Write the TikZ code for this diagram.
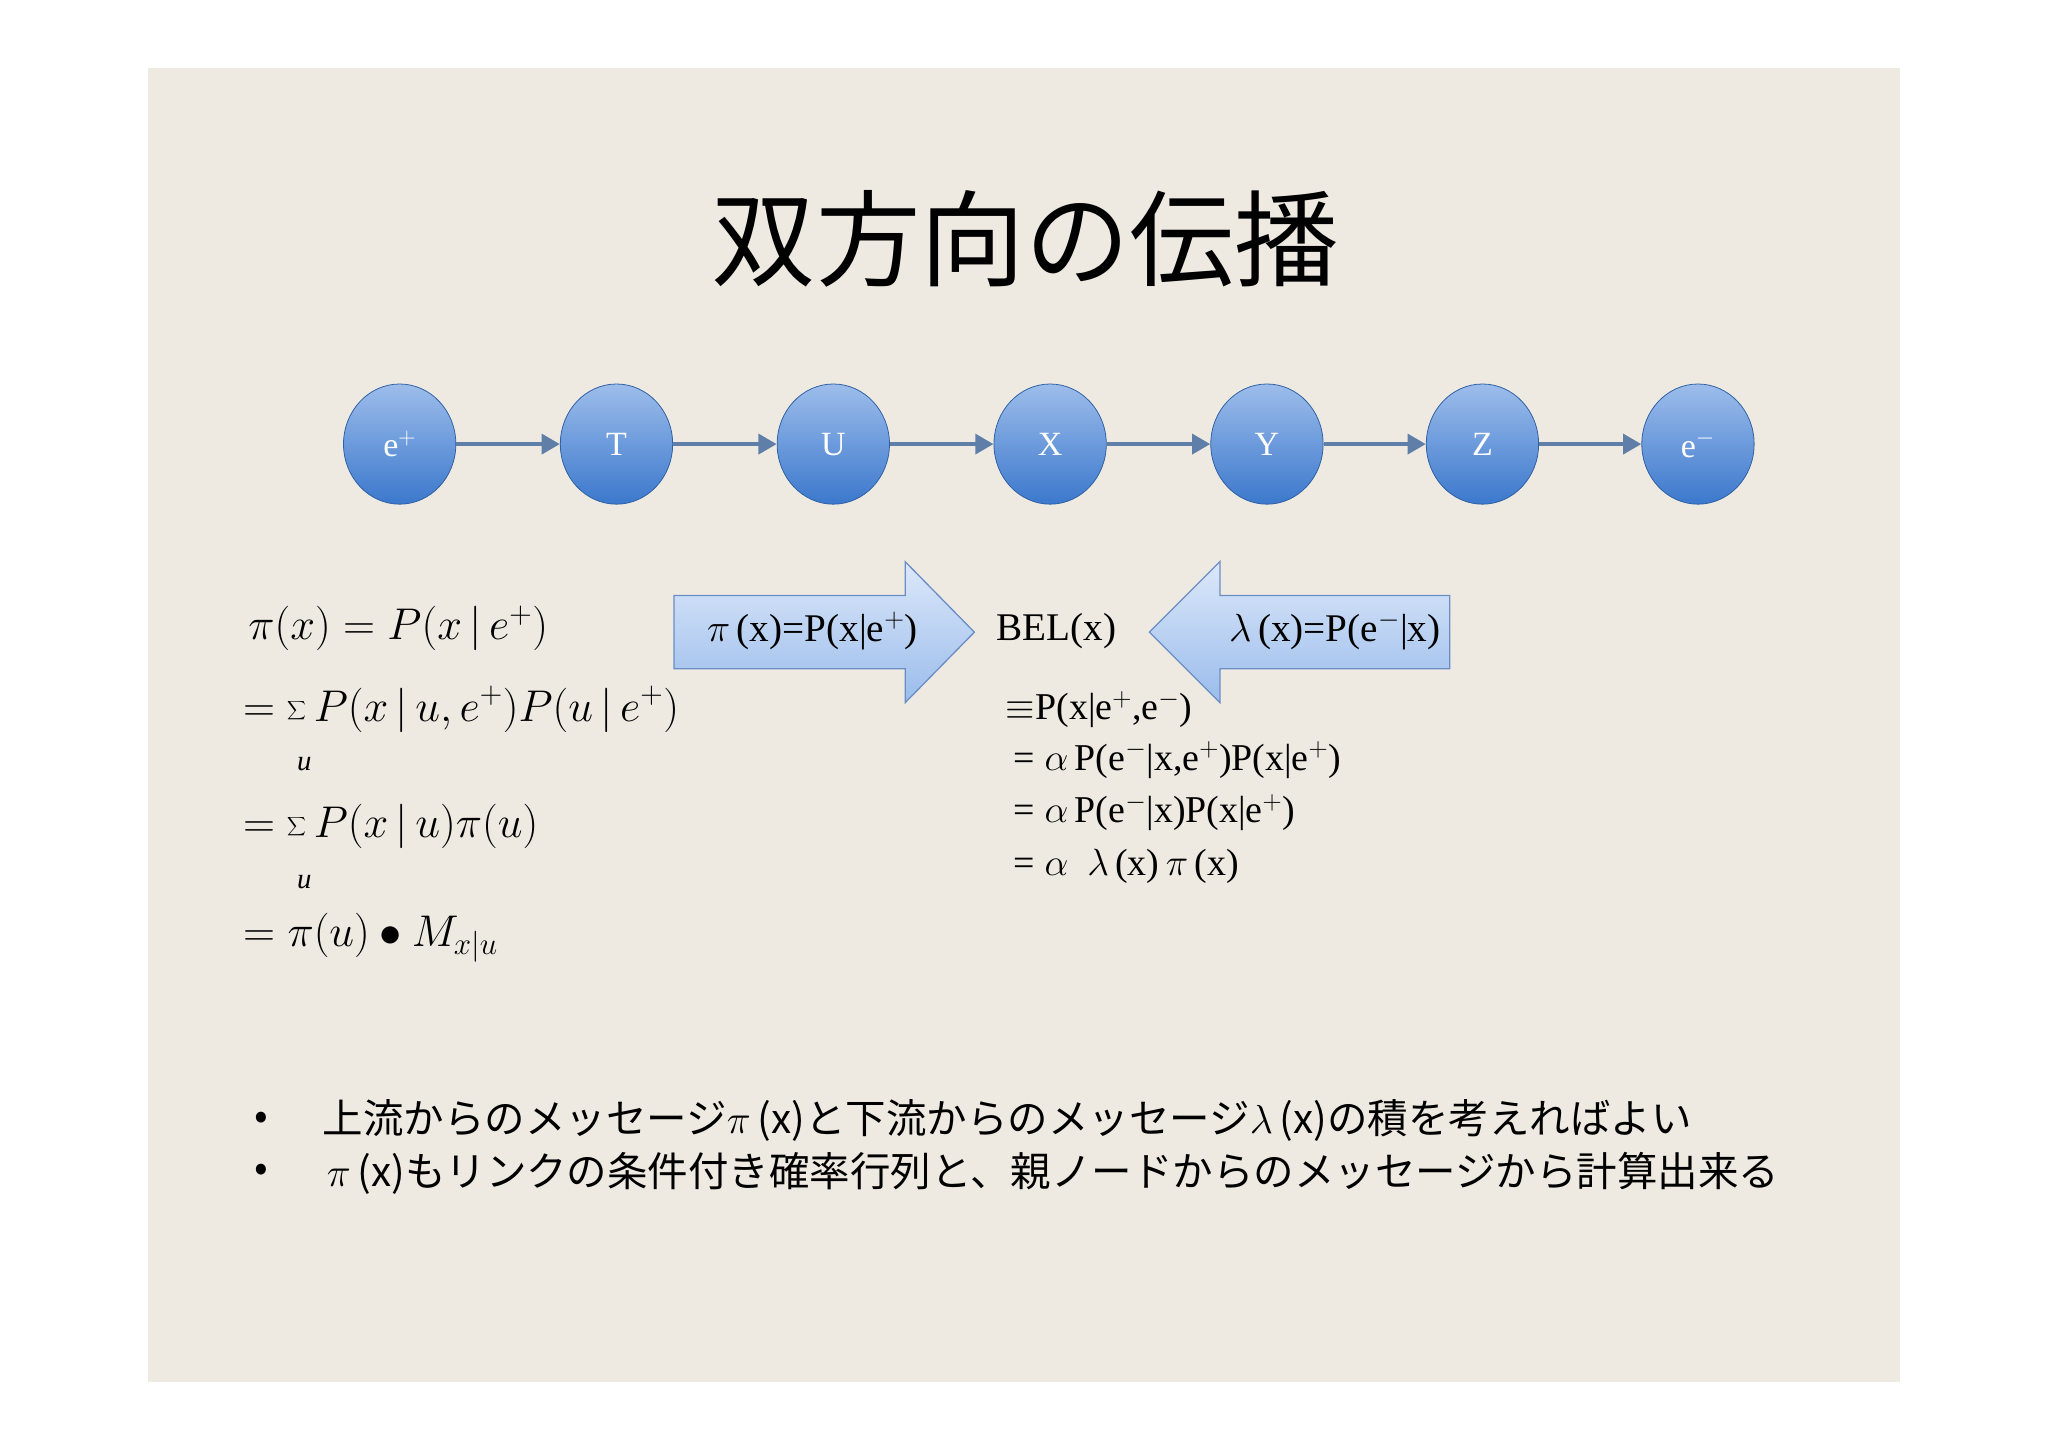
\documentclass[tikz,border=0pt]{standalone}
\usepackage{fix-cm}
\usepackage{fontspec}
\setmainfont{Liberation Serif}
\newfontfamily\cjk{Noto Sans CJK JP}
\usetikzlibrary{arrows.meta,shapes.geometric}
\definecolor{bgc}{HTML}{EEEAE2}
\definecolor{ctop}{HTML}{9DBDEB}
\definecolor{cbot}{HTML}{3B78CC}
\definecolor{lnk}{HTML}{5F7FA8}
\definecolor{atop}{HTML}{DCE8FA}
\definecolor{abot}{HTML}{9ABCEB}
\definecolor{aedge}{HTML}{6A8EC4}
\tikzset{
 bn/.style={ellipse,minimum width=86pt,minimum height=92pt,inner sep=0pt,draw=cbot!80!black,line width=0.6pt,top color=ctop,bottom color=cbot,text=white,font=\fontsize{26}{28}\selectfont},
 lk/.style={draw=lnk,line width=3.5pt,-{Triangle[length=14pt,width=15pt]}},
 barrow/.style={draw=aedge,line width=1pt,top color=atop,bottom color=abot},
 eq/.style={anchor=west,font=\fontsize{29}{32}\selectfont,inner sep=0pt},
 lm/.style={anchor=west,font=\fontsize{34}{38}\selectfont,inner sep=0pt},
 bl/.style={anchor=west,font=\cjk\fontsize{31}{34}\selectfont,inner sep=0pt}
}
\begin{document}
\begin{tikzpicture}[x=1pt,y=-1pt]
\useasboundingbox (0,0) rectangle (1568,1110);
\fill[white] (0,0) rectangle (1568,1110);
\fill[bgc] (113,52) rectangle (1455,1058);
\node[font=\cjk\fontsize{80}{82}\selectfont] (title) at (785,183) {双方向の伝播};
\foreach \n/\x/\t in {a/306/e$^{+}$,b/472/T,c/638/U,d/804/X,e/970/Y,f/1135/Z,g/1300/e$^{-}$}
  \node[bn] (\n) at (\x,340) {\t};
\foreach \p/\q in {a/b,b/c,c/d,d/e,e/f,f/g} \draw[lk] (\p) -- (\q);
\path[barrow] (516,456) -- (693,456) -- (693,430) -- (746,484) -- (693,538) -- (693,512) -- (516,512) -- cycle;
\path[barrow] (1110,456) -- (934,456) -- (934,430) -- (880,484) -- (934,538) -- (934,512) -- (1110,512) -- cycle;
\node[font=\fontsize{30}{32}\selectfont] (pi) at (622,483) {$\pi$\,(x)=P(x|e$^{+}$)};
\node[font=\fontsize{30}{32}\selectfont] (bel) at (809,483) {BEL(x)};
\node[font=\fontsize{30}{32}\selectfont] (lam) at (1022,483) {$\lambda$\,(x)=P(e$^{-}$|x)};
\node[eq] (r1) at (770,543) {$\equiv$P(x|e$^{+}$,e$^{-}$)};
\node[eq] (r2) at (776,582) {= $\alpha$\,P(e$^{-}$|x,e$^{+}$)P(x|e$^{+}$)};
\node[eq] (r3) at (776,622) {= $\alpha$\,P(e$^{-}$|x)P(x|e$^{+}$)};
\node[eq] (r4) at (776,663) {= $\alpha$\ \ $\lambda$\,(x)\,$\pi$\,(x)};
\node[lm] (l1) at (190,481) {$\pi(x)=P(x\,|\,e^{+})$};
\node[lm] (l2) at (186,543) {$=\displaystyle\sum P(x\,|\,u,e^{+})P(u\,|\,e^{+})$};
\node[font=\fontsize{22}{24}\selectfont\itshape] (u1) at (233,585) {u};
\node[lm] (l3) at (186,633) {$=\displaystyle\sum P(x\,|\,u)\pi(u)$};
\node[font=\fontsize{22}{24}\selectfont\itshape] (u2) at (233,675) {u};
\node[lm] (l4) at (186,718) {$=\pi(u)\bullet M_{x|u}$};
\node[bl] (b1) at (195,858) {•};
\node[bl] (t1) at (247,858) {上流からのメッセージ$\pi$\,(x)と下流からのメッセージ$\lambda$\,(x)の積を考えればよい};
\node[bl] (b2) at (195,898) {•};
\node[bl] (t2) at (250,898) {$\pi$\,(x)もリンクの条件付き確率行列と、親ノードからのメッセージから計算出来る};
\end{tikzpicture}
\end{document}
